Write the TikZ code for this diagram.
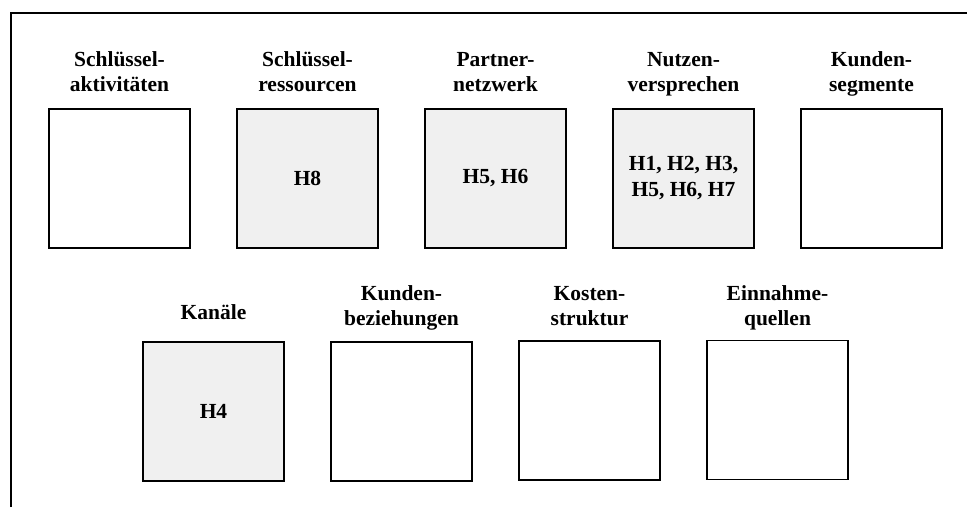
\documentclass[tikz,border=0pt]{standalone}
\usepackage{fontspec}
\setmainfont{Liberation Serif}
\definecolor{boxgray}{HTML}{F0F0F0}
\newcommand\lbltxt[1]{\begin{tabular}[b]{@{}c@{}}#1\end{tabular}}
\begin{document}
\begin{tikzpicture}[x=1pt,y=-1pt,
  every node/.style={font=\fontsize{21.5}{24.5}\selectfont\bfseries},
  bmcbox/.style={draw=black,line width=1.8pt,minimum width=141pt,minimum height=139pt,inner sep=0pt,fill=white,align=center},
  shaded/.style={fill=boxgray},
  lbl/.style={anchor=base,inner sep=0pt}]
\useasboundingbox (0,0) rectangle (967,507);
\draw[line width=2pt] (11,507) -- (11,13) -- (967,13);
% top row
\node[bmcbox] (sa) at (119.5,178.5) {};
\node[bmcbox,shaded] (sr) at (307.5,178.5) {H8};
\node[bmcbox,shaded] (pn) at (495.5,178.5) {H5, H6};
\node[bmcbox,shaded,font=\fontsize{21.5}{26}\selectfont\bfseries] (nv) at (683.5,178.5) {H1, H2, H3,\\H5, H6, H7};
\node[bmcbox] (ks) at (871.5,178.5) {};
\node[lbl] (lsa) at (119.5,91) {\lbltxt{Schlüssel-\\aktivitäten}};
\node[lbl] (lsr) at (307.5,91) {\lbltxt{Schlüssel-\\ressourcen}};
\node[lbl] (lpn) at (495.5,91) {\lbltxt{Partner-\\netzwerk}};
\node[lbl] (lnv) at (683.5,91) {\lbltxt{Nutzen-\\versprechen}};
\node[lbl] (lks) at (871.5,91) {\lbltxt{Kunden-\\segmente}};
% bottom row
\node[bmcbox,shaded] (ka) at (213.5,411.5) {H4};
\node[bmcbox] (kb) at (401.5,411.5) {};
\node[bmcbox] (kst) at (589.5,410.5) {};
\node[bmcbox] (eq) at (777.5,410) {};
\node[lbl] (lka) at (213.5,319) {Kanäle};
\node[lbl] (lkb) at (401.5,325) {\lbltxt{Kunden-\\beziehungen}};
\node[lbl] (lkst) at (589.5,325) {\lbltxt{Kosten-\\struktur}};
\node[lbl] (leq) at (777.5,325) {\lbltxt{Einnahme-\\quellen}};
\end{tikzpicture}
\end{document}
